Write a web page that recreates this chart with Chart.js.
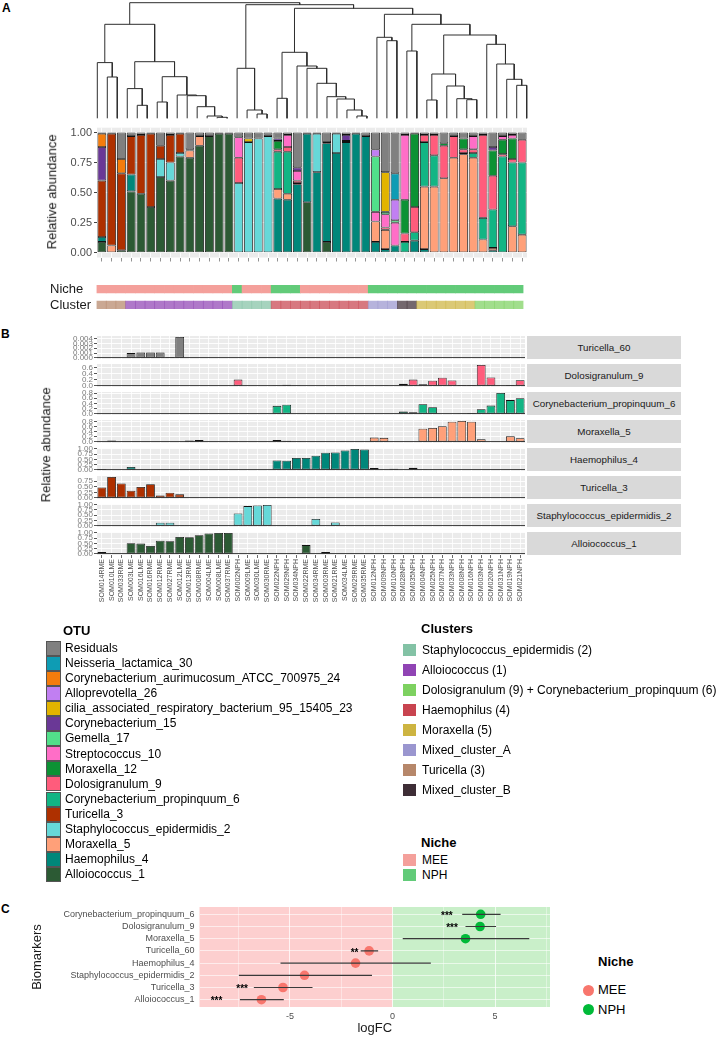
<!DOCTYPE html>
<html>
<head>
<meta charset="utf-8">
<script src="https://cdn.jsdelivr.net/npm/chart.js@4.4.1/dist/chart.umd.min.js"></script>
<style>
  body { margin: 0; background: #fff; font-family: "Liberation Sans", Arial, sans-serif; }
  #page { position: relative; width: 726px; height: 1040px; overflow: hidden; background: #fff; }
  #page canvas { position: absolute; }
  .txt { position: absolute; white-space: nowrap; color: #000; }
  .key { position: absolute; }
  .strip { position: absolute; background: #D9D9D9; color: #1A1A1A; font-size: 9.8px; text-align: center; }
</style>
</head>
<body>
<div id="page"></div>
<script>
// Samples, in dendrogram order
const samples = ['SOM014RME', 'SOM010LME', 'SOM033RME', 'SOM003LME', 'SOM016LME', 'SOM016RME', 'SOM012RME', 'SOM027RME',
  'SOM012LME', 'SOM013RME', 'SOM008RME', 'SOM004LME', 'SOM008LME', 'SOM037RME', 'SOM002NPH', 'SOM009LME',
  'SOM030LME', 'SOM030RME', 'SOM022NPH', 'SOM029NPH', 'SOM034NPH', 'SOM022RME', 'SOM034RME', 'SOM003RME',
  'SOM021RME', 'SOM034LME', 'SOM029RME', 'SOM035RME', 'SOM012NPH', 'SOM009NPH', 'SOM010NPH', 'SOM028NPH',
  'SOM035NPH', 'SOM004NPH', 'SOM025NPH', 'SOM037NPH', 'SOM033NPH', 'SOM008NPH', 'SOM016NPH', 'SOM003NPH',
  'SOM020NPH', 'SOM031NPH', 'SOM019NPH', 'SOM021NPH'];

const sampleNiche = ['MEE', 'MEE', 'MEE', 'MEE', 'MEE', 'MEE', 'MEE', 'MEE', 'MEE', 'MEE', 'MEE', 'MEE', 'MEE', 'MEE',
  'NPH', 'MEE', 'MEE', 'MEE', 'NPH', 'NPH', 'NPH', 'MEE', 'MEE', 'MEE', 'MEE', 'MEE', 'MEE', 'MEE',
  'NPH', 'NPH', 'NPH', 'NPH', 'NPH', 'NPH', 'NPH', 'NPH', 'NPH', 'NPH', 'NPH', 'NPH', 'NPH', 'NPH', 'NPH', 'NPH'];

const sampleCluster = ['Turicella (3)', 'Turicella (3)', 'Turicella (3)',
  'Alloiococcus (1)', 'Alloiococcus (1)', 'Alloiococcus (1)', 'Alloiococcus (1)', 'Alloiococcus (1)', 'Alloiococcus (1)',
  'Alloiococcus (1)', 'Alloiococcus (1)', 'Alloiococcus (1)', 'Alloiococcus (1)', 'Alloiococcus (1)',
  'Staphylococcus_epidermidis (2)', 'Staphylococcus_epidermidis (2)', 'Staphylococcus_epidermidis (2)', 'Staphylococcus_epidermidis (2)',
  'Haemophilus (4)', 'Haemophilus (4)', 'Haemophilus (4)', 'Haemophilus (4)', 'Haemophilus (4)',
  'Haemophilus (4)', 'Haemophilus (4)', 'Haemophilus (4)', 'Haemophilus (4)', 'Haemophilus (4)',
  'Mixed_cluster_A', 'Mixed_cluster_A', 'Mixed_cluster_A', 'Mixed_cluster_B', 'Mixed_cluster_B',
  'Moraxella (5)', 'Moraxella (5)', 'Moraxella (5)', 'Moraxella (5)', 'Moraxella (5)', 'Moraxella (5)',
  'Dolosigranulum (9) + Corynebacterium_propinquum (6)', 'Dolosigranulum (9) + Corynebacterium_propinquum (6)',
  'Dolosigranulum (9) + Corynebacterium_propinquum (6)', 'Dolosigranulum (9) + Corynebacterium_propinquum (6)',
  'Dolosigranulum (9) + Corynebacterium_propinquum (6)'];

// Relative abundance per OTU (one value per sample)
const alloiococcus1 = [.09, 0, .02, .51, .49, .38, .63, .60, .80, .79, .89, .97, .99, .99, 0, 0, 0, 0, 0, 0, 0, .42,
  0, .09, 0, 0, 0, 0, 0, 0, 0, 0, 0, 0, 0, 0, 0, 0, 0, 0, 0, 0, 0, 0];
const haemophilus4 = [.04, 0, 0, .14, 0, 0, 0, 0, 0, 0, 0, 0, 0, 0, 0, 0, 0, 0, .45, .44, .57, .57,
  .67, .82, .83, .92, .99, .97, .09, .03, .06, 0, .10, .03, 0, 0, 0, 0, 0, 0, .02, 0, 0, 0];
const moraxella5 = [0, .06, 0, 0, 0, 0, 0, 0, 0, .06, .08, 0, 0, 0, 0, 0, 0, 0, .08, .05, .01, 0,
  0, 0, 0, 0, 0, 0, .17, .16, 0, 0, 0, .52, .55, .62, .79, .82, .79, .11, .02, 0, .22, .15];
const staphEpidermidis2 = [0, 0, 0, 0, 0, 0, .15, .15, .03, .01, 0, 0, 0, 0, .58, .92, .95, .97, 0, 0, 0, 0,
  .32, 0, .16, 0, 0, 0, 0, 0, 0, 0, 0, 0, 0, 0, 0, 0, 0, 0, 0, 0, 0, 0];
const turicella3 = [.47, .93, .64, .32, .49, .61, .11, .23, .16, 0, 0, 0, 0, 0, 0, 0, 0, 0, 0, 0, 0, 0,
  0, .01, 0, 0, 0, 0, 0, 0, 0, 0, 0, 0, 0, 0, 0, 0, 0, 0, 0, 0, 0, 0];
const corynePropinquum6 = [0, 0, 0, 0, 0, 0, 0, 0, 0, 0, 0, 0, 0, 0, 0, 0, 0, 0, .31, .35, 0, 0,
  0, 0, 0, 0, 0, 0, 0, 0, 0, .09, .07, .37, .26, 0, 0, .01, .04, .18, .32, .80, .53, .60];
const dolosigranulum9 = [0, 0, 0, 0, 0, 0, 0, 0, 0, 0, 0, 0, 0, 0, .21, 0, 0, 0, .02, .04, .02, 0,
  0, 0, 0, .01, 0, 0, 0, .02, 0, .07, .21, .06, .17, .27, .18, .03, .03, .69, .28, .02, .03, .19];
const moraxella12 = [0, 0, 0, 0, 0, 0, 0, 0, 0, 0, 0, 0, 0, 0, 0, 0, 0, 0, .07, 0, 0, 0,
  0, 0, 0, 0, 0, 0, 0, 0, 0, .28, .61, 0, 0, .02, 0, .09, 0, 0, .21, .12, .17, 0];
const streptococcus10 = [0, 0, 0, 0, 0, 0, 0, 0, 0, 0, 0, 0, 0, 0, .17, 0, 0, 0, 0, .10, .08, 0,
  0, 0, 0, 0, 0, 0, .08, .11, .19, .54, 0, 0, 0, 0, 0, 0, .11, 0, 0, .03, .03, 0];
const gemella17 = [0, 0, 0, 0, 0, 0, 0, 0, 0, 0, 0, 0, 0, 0, 0, 0, 0, 0, 0, 0, 0, 0,
  0, 0, 0, 0, 0, 0, .46, .02, .02, 0, 0, 0, 0, 0, 0, 0, 0, 0, 0, 0, 0, 0];
const corynebacterium15 = [.28, 0, 0, 0, 0, 0, 0, 0, 0, 0, 0, 0, 0, 0, 0, 0, 0, 0, .02, 0, .03, 0,
  0, 0, 0, .05, 0, 0, 0, 0, 0, 0, 0, 0, 0, 0, 0, 0, 0, 0, .03, 0, 0, 0];
const ciliaBacterium23 = [0, 0, 0, 0, 0, 0, 0, 0, 0, 0, 0, 0, 0, 0, 0, .03, 0, 0, 0, 0, 0, 0,
  0, 0, 0, 0, 0, 0, 0, .33, 0, 0, 0, 0, 0, 0, 0, 0, 0, 0, 0, 0, 0, 0];
const alloprevotella26 = [0, 0, 0, 0, 0, 0, 0, 0, 0, 0, 0, 0, 0, 0, 0, 0, 0, 0, 0, 0, 0, 0,
  0, 0, 0, 0, 0, 0, .06, 0, .17, 0, 0, 0, 0, 0, 0, 0, 0, 0, 0, 0, 0, 0];
const corynebAurimucosum24 = [.11, 0, .12, 0, 0, 0, 0, 0, 0, 0, 0, 0, 0, 0, 0, 0, 0, 0, 0, 0, 0, 0,
  0, 0, 0, 0, 0, 0, 0, 0, 0, 0, 0, 0, 0, 0, 0, 0, 0, 0, 0, 0, 0, 0];
const neisseria30 = [0, 0, 0, 0, 0, 0, 0, 0, 0, 0, 0, 0, 0, 0, 0, 0, 0, 0, 0, 0, 0, 0,
  0, 0, 0, 0, 0, 0, 0, 0, .22, 0, 0, 0, 0, 0, 0, 0, 0, 0, 0, 0, 0, 0];
const residuals = [.01, .01, .22, .03, .02, .01, .11, .02, .01, .14, .03, .03, .01, .01, .04, .05, .05, .03, .05, .02, .29, .01,
  .01, .08, .01, .02, .01, .03, .14, .33, .34, .02, .01, .02, .02, .09, .03, .05, .03, .02, .12, .03, .02, .06];
const turicella60 = [0, 0, 0, .0010, .0011, .0011, .0011, .0002, .0043, 0, 0, 0, 0, 0, 0, 0, 0, 0, 0, 0, 0, 0,
  0, 0, 0, 0, 0, 0, 0, 0, 0, 0, 0, 0, 0, 0, 0, 0, 0, 0, 0, 0, 0, 0];

// OTU legend order (top of the stack first)
const otuNames = ['Residuals', 'Neisseria_lactamica_30', 'Corynebacterium_aurimucosum_ATCC_700975_24', 'Alloprevotella_26',
  'cilia_associated_respiratory_bacterium_95_15405_23', 'Corynebacterium_15', 'Gemella_17', 'Streptococcus_10',
  'Moraxella_12', 'Dolosigranulum_9', 'Corynebacterium_propinquum_6', 'Turicella_3', 'Staphylococcus_epidermidis_2',
  'Moraxella_5', 'Haemophilus_4', 'Alloiococcus_1'];
const otuValues = [residuals, neisseria30, corynebAurimucosum24, alloprevotella26, ciliaBacterium23, corynebacterium15,
  gemella17, streptococcus10, moraxella12, dolosigranulum9, corynePropinquum6, turicella3, staphEpidermidis2,
  moraxella5, haemophilus4, alloiococcus1];
const otuColors = ['#808080', '#0E9CB4', '#F47C0C', '#C17FF2', '#E2B400', '#6A3896', '#52E08A', '#FF6EC7',
  '#0C9234', '#FF5C7C', '#12B584', '#AE3000', '#66D8D8', '#FFA079', '#00877A', '#2C5A34'];

// Dendrogram merges (hclust style: negative = leaf, positive = earlier merge)
const mergeA = [-2, -1, -5, -4, -7, -13, -12, -11, -10, -9, 5, 4, 2, -17, -16, -15, -19, -27, -26, -25, -24, -23,
  -22, -21, 17, -30, -29, -32, -34, -38, -37, -36, 29, -43, -42, -41, -40, 33, 28, 27, 25, 16, 13];
const mergeB = [-3, 1, -6, 3, -8, -14, 6, 7, 8, 9, 10, 11, 12, -18, 14, 15, -20, -28, 18, 19, 20, 21,
  22, 23, 24, -31, 26, -33, -35, -39, 30, 31, 32, -44, 34, 35, 36, 37, 38, 39, 40, 41, 42];
const mergeHeight = [41.3, 55.7, 13, 29.7, 16.3, 1.0, 2.3, 11.6, 22.6, 23.3, 41.6, 56.6, 94, 4.3, 8.3, 50, 20, 2.3, 8.3,
  19.3, 21.6, 35, 50, 52.3, 66, 77.6, 81, 67.3, 18.3, 18.6, 19.6, 32.3, 44.3, 33, 39, 54.3, 74, 83.3, 94, 104, 110,
  113.6, 115.6];

// Panel B facets
const facetNames = ['Turicella_60', 'Dolosigranulum_9', 'Corynebacterium_propinquum_6', 'Moraxella_5',
  'Haemophilus_4', 'Turicella_3', 'Staphylococcus_epidermidis_2', 'Alloiococcus_1'];
const facetValues = [turicella60, dolosigranulum9, corynePropinquum6, moraxella5, haemophilus4, turicella3,
  staphEpidermidis2, alloiococcus1];
const facetColors = ['#808080', '#FF5C7C', '#12B584', '#FFA079', '#00877A', '#AE3000', '#66D8D8', '#2C5A34'];
const facetTicks = [[0, .001, .002, .003, .004], [0, .2, .4, .6], [0, .2, .4, .6, .8], [0, .2, .4, .6, .8],
  [0, .25, .5, .75, 1], [0, .25, .5, .75], [0, .25, .5, .75, 1], [0, .25, .5, .75, 1]];
const facetDecimals = [3, 1, 1, 1, 2, 2, 2, 2];

// Legends
const clusterNames = ['Staphylococcus_epidermidis (2)', 'Alloiococcus (1)', 'Dolosigranulum (9) + Corynebacterium_propinquum (6)',
  'Haemophilus (4)', 'Moraxella (5)', 'Mixed_cluster_A', 'Turicella (3)', 'Mixed_cluster_B'];
const clusterColors = ['#83C2A5', '#9044B4', '#7DD160', '#C8444F', '#CDB441', '#9A96CF', '#B6876A', '#3E2E36'];
const nicheNames = ['MEE', 'NPH'];
const nicheColors = ['#F4A09B', '#62CB79'];

// Panel C: biomarkers
const biomarkers = ['Corynebacterium_propinquum_6', 'Dolosigranulum_9', 'Moraxella_5', 'Turicella_60',
  'Haemophilus_4', 'Staphylococcus_epidermidis_2', 'Turicella_3', 'Alloiococcus_1'];
const logFC = [4.30, 4.27, 3.56, -1.14, -1.80, -4.29, -5.34, -6.39];
const ciLow = [3.40, 3.56, 0.50, -1.55, -5.46, -7.49, -6.76, -7.44];
const ciHigh = [5.27, 5.05, 6.67, -0.70, 1.87, -1.00, -3.90, -5.30];
const enrichedIn = ['NPH', 'NPH', 'NPH', 'MEE', 'MEE', 'MEE', 'MEE', 'MEE'];
const signif = ['***', '***', '', '**', '', '', '***', '***'];
const signifAt = [2.65, 2.90, null, -1.85, null, null, -7.33, -8.58];
const pointColors = { MEE: '#F8766D', NPH: '#00BA38' };

// Defaults
Chart.defaults.font.family = "'Liberation Sans', Arial, sans-serif";
Chart.defaults.animation = false;
Chart.defaults.responsive = false;
Chart.defaults.devicePixelRatio = 1;
Chart.defaults.plugins.legend.display = false;
Chart.defaults.plugins.tooltip.enabled = false;

const page = document.getElementById('page');

// Helpers
function makeCanvas(left, top, w, h) {
  const c = document.createElement('canvas');
  c.width = w; c.height = h;
  c.style.left = left + 'px'; c.style.top = top + 'px';
  c.style.width = w + 'px'; c.style.height = h + 'px';
  page.appendChild(c);
  return c;
}

function addText(str, left, cy, size, extra) {
  const d = document.createElement('div');
  d.className = 'txt';
  d.textContent = str;
  d.style.left = left + 'px';
  d.style.top = (cy - size * 0.6) + 'px';
  d.style.fontSize = size + 'px';
  d.style.lineHeight = (size * 1.2) + 'px';
  if (extra) Object.assign(d.style, extra);
  page.appendChild(d);
  return d;
}

function addKey(left, top, w, h, color, border) {
  const k = document.createElement('div');
  k.className = 'key';
  Object.assign(k.style, { left: left + 'px', top: top + 'px', width: w + 'px', height: h + 'px', background: color });
  if (border) k.style.outline = '1px solid ' + border;
  page.appendChild(k);
}

const fixY = w => s => { s.width = w; s.paddingTop = 0; s.paddingBottom = 0; };
const fixX = h => s => { s.height = h; s.paddingLeft = 0; s.paddingRight = 0; };
const setTicks = vals => s => { s.ticks = vals.map(v => ({ value: v })); };
const noZero = arr => arr.map(v => (v === 0 ? null : v));

const panelBg = {
  id: 'panelBg',
  beforeDraw(chart) {
    const a = chart.chartArea, ctx = chart.ctx;
    ctx.save();
    ctx.fillStyle = '#EBEBEB';
    ctx.fillRect(a.left, a.top, a.right - a.left, a.bottom - a.top);
    ctx.restore();
  }
};

// Panel letters
addText('A', 2, 8, 12, { fontWeight: 'bold' });
addText('B', 1, 334, 12, { fontWeight: 'bold' });
addText('C', 1, 909, 12, { fontWeight: 'bold' });

// Dendrogram
function dendroSets() {
  const nx = [], nh = [], sets = [];
  const pos = v => (v < 0 ? -v : nx[v - 1]);
  const ht = v => (v < 0 ? 0 : nh[v - 1]);
  for (let i = 0; i < mergeA.length; i++) {
    const a = mergeA[i], b = mergeB[i], h = mergeHeight[i];
    const xa = pos(a), xb = pos(b);
    nx.push((xa + xb) / 2);
    nh.push(h);
    sets.push({
      data: [{ x: xa, y: ht(a) }, { x: xa, y: h }, { x: xb, y: h }, { x: xb, y: ht(b) }],
      borderColor: '#2E2E2E', borderWidth: 1, pointRadius: 0, tension: 0, clip: false
    });
  }
  return sets;
}

new Chart(makeCanvas(95, 0, 435, 121), {
  type: 'line',
  data: { datasets: dendroSets() },
  options: {
    layout: { padding: { left: 2.3, right: 3.3, top: 2.7, bottom: 2.7 } },
    scales: {
      x: { type: 'linear', min: 1, max: samples.length, display: false },
      y: { min: 0, max: 115.6, display: false }
    }
  }
});

// Panel A: stacked relative abundance
const stackOrder = otuNames.map((n, i) => i).reverse();
new Chart(makeCanvas(0, 118, 532, 150), {
  type: 'bar',
  data: {
    labels: samples,
    datasets: stackOrder.map(i => ({
      label: otuNames[i],
      data: noZero(otuValues[i]),
      backgroundColor: otuColors[i],
      borderColor: '#111',
      borderWidth: 0.8,
      borderSkipped: false,
      barPercentage: 0.9,
      categoryPercentage: 1
    }))
  },
  options: {
    layout: { padding: { left: 0, right: 5, top: 9.7, bottom: 0 } },
    scales: {
      x: {
        stacked: true,
        grid: { offset: false, color: '#FFFFFF', lineWidth: 0.8, tickLength: 4, tickColor: '#777' },
        border: { display: false },
        ticks: { display: false },
        afterFit: fixX(10.5)
      },
      y: {
        stacked: true, min: -0.04, max: 1.04,
        afterBuildTicks: setTicks([0, 0.25, 0.5, 0.75, 1]),
        grid: { color: '#FFFFFF', tickLength: 3, tickColor: '#444' },
        border: { display: false },
        ticks: { font: { size: 11 }, color: '#4D4D4D', padding: 2, autoSkip: false, callback: v => v.toFixed(2) },
        afterFit: fixY(97)
      }
    }
  },
  plugins: [panelBg]
});

addText('Relative abundance', 52 - 60, 192, 13, { width: '120px', textAlign: 'center', transform: 'rotate(-90deg)', color: '#1A1A1A' });

// Niche / cluster strips
const nicheIdx = sampleNiche.map(n => nicheNames.indexOf(n));
const clusterIdx = sampleCluster.map(c => clusterNames.indexOf(c));
const fade = (hex, a) => {
  const n = parseInt(hex.slice(1), 16);
  return `rgba(${n >> 16},${(n >> 8) & 255},${n & 255},${a})`;
};
new Chart(makeCanvas(0, 280, 532, 34), {
  type: 'bar',
  data: {
    labels: samples,
    datasets: [
      { data: samples.map(() => [16, 24]), backgroundColor: nicheIdx.map(i => nicheColors[i]),
        barPercentage: 1, categoryPercentage: 1, grouped: false, borderWidth: 0 },
      { data: samples.map(() => [0, 8]), backgroundColor: clusterIdx.map(i => fade(clusterColors[i], 0.72)),
        barPercentage: 1, categoryPercentage: 1, grouped: false, borderWidth: 0 }
    ]
  },
  options: {
    layout: { padding: { left: 50, right: 8.5, top: 5, bottom: 5 } },
    scales: {
      x: { display: false },
      y: {
        min: 0, max: 24,
        afterBuildTicks: setTicks([20, 4]),
        grid: { display: false, drawTicks: false },
        border: { display: false },
        ticks: { font: { size: 13 }, color: '#1A1A1A', crossAlign: 'far', padding: 0, autoSkip: false,
          callback: v => (v > 12 ? 'Niche' : 'Cluster') },
        afterFit: fixY(46.5)
      }
    }
  }
});

// Panel B: one facet per OTU
const facetTops = [336, 364.2, 392.2, 420, 448, 476.2, 504, 531.8];
const facetH = 23;
facetNames.forEach((name, k) => {
  const last = k === facetNames.length - 1;
  const vals = facetValues[k];
  const top = facetTops[k];
  const ch = last ? 100 : 35;
  const vmax = Math.max(...vals);
  new Chart(makeCanvas(40, top - 6, 490, ch), {
    type: 'bar',
    data: {
      labels: samples,
      datasets: [{
        data: noZero(vals), backgroundColor: facetColors[k], borderColor: '#111', borderWidth: 0.8,
        borderSkipped: false, barPercentage: 0.9, categoryPercentage: 1
      }]
    },
    options: {
      layout: { padding: { left: 0, right: 5, top: 6, bottom: last ? 0 : ch - 6 - facetH } },
      scales: {
        x: {
          grid: { offset: false, color: '#FFFFFF', lineWidth: 0.8, drawTicks: last, tickLength: 3, tickColor: '#444' },
          border: { display: false },
          ticks: { display: last, autoSkip: false, minRotation: 90, maxRotation: 90, font: { size: 7 },
            color: '#4D4D4D', padding: 1 },
          afterFit: fixX(last ? ch - 6 - facetH : 0)
        },
        y: {
          min: -0.05 * vmax, max: 1.05 * vmax,
          afterBuildTicks: setTicks(facetTicks[k]),
          grid: { color: c => (c.tick && c.tick.value === 0 ? '#333333' : '#FFFFFF'), lineWidth: 0.9,
            tickLength: 3, tickColor: '#444' },
          border: { display: false },
          ticks: { font: { size: 8 }, color: '#7A7A7A', padding: 1, autoSkip: false,
            callback: v => v.toFixed(facetDecimals[k]) },
          afterFit: fixY(57)
        }
      }
    },
    plugins: [panelBg]
  });
  const s = document.createElement('div');
  s.className = 'strip';
  s.textContent = name;
  Object.assign(s.style, { left: '527px', top: top + 'px', width: '154px', height: facetH + 'px', lineHeight: facetH + 'px' });
  page.appendChild(s);
});

addText('Relative abundance', 46 - 60, 445, 13, { width: '120px', textAlign: 'center', transform: 'rotate(-90deg)', color: '#1A1A1A' });

// Legends
addText('OTU', 63, 631, 13, { fontWeight: 'bold' });
otuNames.forEach((n, i) => {
  const cy = 648 + i * 15.1;
  addKey(47, cy - 6.5, 13, 13, otuColors[i], '#555');
  addText(n, 65, cy, 12);
});

addText('Clusters', 421, 629, 13, { fontWeight: 'bold' });
clusterNames.forEach((n, i) => {
  const cy = 650 + i * 20;
  addKey(403, cy - 6, 13, 12, clusterColors[i]);
  addText(n, 422, cy, 12);
});

addText('Niche', 421, 843, 13, { fontWeight: 'bold' });
nicheNames.forEach((n, i) => {
  const cy = 860 + i * 15;
  addKey(403, cy - 6, 13, 12, nicheColors[i]);
  addText(n, 422, cy, 12);
});

// Panel C: biomarker forest plot
const rowOf = i => biomarkers.length - i;
const nicheShade = {
  id: 'nicheShade',
  beforeDraw(chart) {
    const a = chart.chartArea, ctx = chart.ctx, x0 = chart.scales.x.getPixelForValue(0);
    ctx.save();
    ctx.fillStyle = '#FDCFCF';
    ctx.fillRect(a.left, a.top, x0 - a.left, a.bottom - a.top);
    ctx.fillStyle = '#C9EFC9';
    ctx.fillRect(x0, a.top, a.right - x0, a.bottom - a.top);
    ctx.restore();
  }
};
const starLabels = {
  id: 'starLabels',
  afterDatasetsDraw(chart) {
    const ctx = chart.ctx, xs = chart.scales.x, ys = chart.scales.y;
    ctx.save();
    ctx.font = "bold 10px 'Liberation Sans', Arial, sans-serif";
    ctx.fillStyle = '#000';
    ctx.textAlign = 'center';
    ctx.textBaseline = 'middle';
    signif.forEach((s, i) => {
      if (!s) return;
      ctx.fillText(s, xs.getPixelForValue(signifAt[i]), ys.getPixelForValue(rowOf(i)) + 2);
    });
    ctx.restore();
  }
};

const ciSets = biomarkers.map((b, i) => ({
  type: 'line',
  data: [{ x: ciLow[i], y: rowOf(i) }, { x: ciHigh[i], y: rowOf(i) }],
  borderColor: '#3A3A3A', borderWidth: 1.2, pointRadius: 0, showLine: true
}));
const pointSets = nicheNames.map(n => ({
  type: 'scatter',
  data: biomarkers.map((b, i) => ({ x: logFC[i], y: rowOf(i), niche: enrichedIn[i] })).filter(p => p.niche === n),
  backgroundColor: pointColors[n], borderWidth: 0, pointRadius: 4.8
}));

new Chart(makeCanvas(0, 895, 560, 145), {
  type: 'scatter',
  data: { datasets: ciSets.concat(pointSets) },
  options: {
    layout: { padding: { left: 0, right: 10, top: 12, bottom: 0 } },
    scales: {
      x: {
        type: 'linear', min: -9.41, max: 7.68,
        afterBuildTicks: setTicks([-7.5, -5, -2.5, 0, 2.5, 5, 7.5]),
        grid: { color: c => (c.tick && c.tick.value % 5 === 0 ? 'rgba(255,255,255,0.75)' : 'rgba(255,255,255,0.4)'),
          drawTicks: false },
        border: { display: false },
        ticks: { font: { size: 9 }, color: '#4D4D4D', padding: 4, autoSkip: false,
          callback: v => (v % 5 === 0 ? String(v) : '') },
        title: { display: true, text: 'logFC', font: { size: 13 }, color: '#1A1A1A', padding: { top: 2, bottom: 4 } },
        afterFit: fixX(33)
      },
      y: {
        type: 'linear', min: 0.4, max: biomarkers.length + 0.6,
        afterBuildTicks: setTicks(biomarkers.map((b, i) => rowOf(i))),
        grid: { color: 'rgba(255,255,255,0.6)', drawTicks: false },
        border: { display: false },
        ticks: { font: { size: 9 }, color: '#4D4D4D', padding: 5, autoSkip: false,
          callback: v => biomarkers[biomarkers.length - v] },
        title: { display: true, text: 'Biomarkers', font: { size: 13 }, color: '#1A1A1A', padding: { top: 30, bottom: 0 } },
        afterFit: fixY(199.5)
      }
    }
  },
  plugins: [nicheShade, starLabels]
});

// Panel C legend
addText('Niche', 598, 962, 13, { fontWeight: 'bold' });
nicheNames.forEach((n, i) => {
  const cy = 990 + i * 19.5;
  const dot = document.createElement('div');
  Object.assign(dot.style, { position: 'absolute', left: '583px', top: (cy - 5.5) + 'px', width: '11px', height: '11px',
    borderRadius: '50%', background: pointColors[n] });
  page.appendChild(dot);
  addText(n, 598, cy, 13);
});
</script>
</body>
</html>
